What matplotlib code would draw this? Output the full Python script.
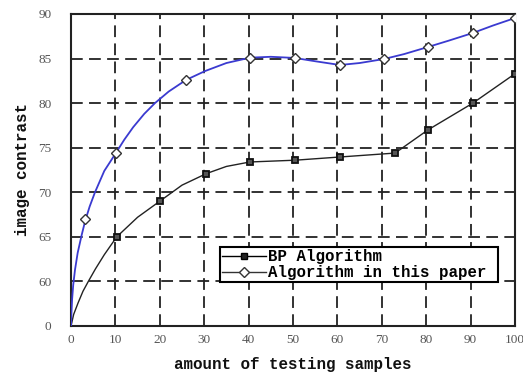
import matplotlib
matplotlib.use("Agg")
import matplotlib.pyplot as plt
from matplotlib.lines import Line2D

# x positions of markers and values (y axis bottom = 55 shown as "0")
bp_x = [0, 10.3, 20, 30.5, 40.3, 50.5, 60.6, 73, 80.4, 90.5, 100]
bp_y = [55, 65, 69, 72.1, 73.4, 73.6, 73.96, 74.4, 77.0, 80.0, 83.3]
# black curve points (curved start)
bp_curve_x = [0, 0.6, 1.6, 2.7, 3.9, 5.5, 7.5, 10.3, 15, 20, 25, 30.5, 35, 40.3, 50.5, 60.6, 73, 80.4, 90.5, 100]
bp_curve_y = [55, 56.3, 57.6, 58.9, 60, 61.4, 63.0, 65, 67.2, 69, 70.8, 72.1, 72.9, 73.4, 73.6, 73.96, 74.4, 77.0, 80.0, 83.3]

ours_x = [3.2, 10.1, 25.9, 40.3, 50.4, 60.6, 70.5, 80.4, 90.5, 100]
ours_y = [67, 74.4, 82.6, 85.1, 85.07, 84.28, 84.95, 86.3, 87.87, 89.55]
ours_curve_x = [0, 0.1, 0.25, 0.5, 0.9, 1.5, 2.4, 3.2, 4.2, 5.4, 7.5, 10.1, 12, 14, 16.5, 18.9, 22, 25.9, 30.2, 35, 40.3, 45, 50.4, 55, 60.6, 65, 70.5, 75, 80.4, 85, 90.5, 95, 100]
ours_curve_y = [55, 56.5, 58.0, 59.6, 61.3, 63.2, 65.2, 66.8, 68.4, 70.0, 72.4, 74.4, 75.9, 77.3, 78.8, 80.0, 81.3, 82.6, 83.6, 84.5, 85.1, 85.2, 85.07, 84.7, 84.28, 84.5, 84.95, 85.5, 86.3, 87.0, 87.87, 88.7, 89.55]

xticks = list(range(0, 101, 10))
yticks = [55, 60, 65, 70, 75, 80, 85, 90]
ytick_labels = ["0", "60", "65", "70", "75", "80", "85", "90"]

fig = plt.figure(figsize=(5.23, 3.76), dpi=100)
ax = fig.add_axes([71/523, 50/376, 444/523, 312/376])

ax.plot(bp_curve_x, bp_curve_y, color="#222222", lw=1.0, zorder=3)
ax.plot(bp_x[1:], bp_y[1:], ls="none", marker="s", ms=5, mfc="#555555",
        mec="#111111", mew=1.3, zorder=4)
ax.plot(ours_curve_x, ours_curve_y, color="#3a3ad0", lw=1.3, zorder=3)
ax.plot(ours_x, ours_y, ls="none", marker="D", ms=5.5, mfc="white",
        mec="#333333", mew=1.0, zorder=4)

ax.set_xlim(0, 100)
ax.set_ylim(55, 90)
ax.set_xticks(xticks)
ax.set_yticks(yticks)
ax.set_yticklabels(ytick_labels)
ax.tick_params(direction="in", length=0, labelsize=9.5, colors="#555555")
ax.tick_params(axis="y", pad=14)
ax.tick_params(axis="x", pad=6)
for lab in ax.get_xticklabels() + ax.get_yticklabels():
    lab.set_family("Liberation Serif")

ax.grid(True, color="#222222", lw=1.3, linestyle=(0, (6.5, 3.5)))
for sp in ax.spines.values():
    sp.set_linewidth(1.5)
    sp.set_color("#222222")

mono = {"family": "Liberation Mono", "weight": "bold", "size": 11.4}
ax.set_xlabel("amount of testing samples", fontdict=mono, labelpad=8, color="#111111")
ax.set_ylabel("image contrast", fontdict=mono, labelpad=6, color="#111111")

handles = [Line2D([], [], color="black", lw=1.0, marker="s", ms=4.5, mfc="#222222", mec="black"),
           Line2D([], [], color="#333333", lw=1.0, marker="D", ms=5, mfc="white", mec="#333333")]
leg = ax.legend(handles, ["BP Algorithm", "Algorithm in this paper"],
                loc="lower left", bbox_to_anchor=(0.336, 0.141, 0.626, 0.144), mode="expand",
                borderaxespad=0, frameon=True, fancybox=False, framealpha=1,
                prop={"family": "Liberation Mono", "weight": "bold", "size": 11.3},
                handlelength=2.8, handletextpad=0.1, labelspacing=0.05, borderpad=0.12)
leg.get_frame().set_edgecolor("black")
leg.get_frame().set_linewidth(1.5)
leg.set_zorder(5)

fig.savefig("out.png", dpi=100)
